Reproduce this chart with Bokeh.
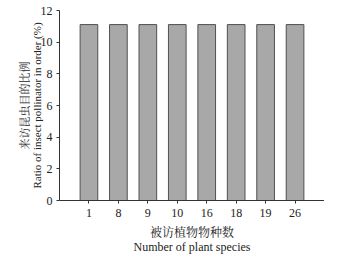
from bokeh.plotting import figure
from bokeh.models import FixedTicker, Range1d
from bokeh.embed import file_html
from bokeh.resources import INLINE

categories = ["1", "8", "9", "10", "16", "18", "19", "26"]
ratios = [11.11, 11.11, 11.11, 11.11, 11.11, 11.11, 11.11, 11.11]
y_ticks = [0, 2, 4, 6, 8, 10, 12]

x_pos = list(range(1, len(categories) + 1))

FONT = "'Liberation Serif', 'Noto Serif CJK SC', 'Noto Sans CJK SC', serif"

p = figure(width=321, height=243, output_backend="svg", toolbar_location=None,
           x_range=Range1d(0, len(categories) + 1), y_range=Range1d(0, 12),
           min_border_left=59, min_border_right=0, min_border_top=10, min_border_bottom=0)
p.frame_width = 265
p.frame_height = 190

p.vbar(x=x_pos, top=ratios, width=0.6, fill_color="#a8a8a8",
       line_color="#505050", line_width=1)

p.xgrid.visible = False
p.ygrid.visible = False
p.outline_line_color = None

p.xaxis.ticker = FixedTicker(ticks=x_pos)
p.xaxis.major_label_overrides = {x: c for x, c in zip(x_pos, categories)}
p.yaxis.ticker = FixedTicker(ticks=y_ticks)

for ax in (p.xaxis[0], p.yaxis[0]):
    ax.axis_line_color = "#333333"
    ax.major_tick_line_color = "#333333"
    ax.major_tick_out = 3
    ax.major_tick_in = 0
    ax.minor_tick_line_color = None
    ax.major_label_text_font = FONT
    ax.major_label_text_font_size = "12px"
    ax.major_label_text_color = "#222222"
    ax.axis_label_text_font = FONT
    ax.axis_label_text_font_style = "normal"
    ax.axis_label_text_color = "#222222"
    ax.axis_label_text_line_height = 1.0

p.xaxis.axis_label_text_font_size = "12px"
p.yaxis.axis_label_text_font_size = "11px"
p.xaxis.axis_label = "被访植物物种数\nNumber of plant species"
p.yaxis.axis_label = "来访昆虫目的比例\nRatio of insect pollinator in order (%)"
p.xaxis.axis_label_standoff = 6
p.yaxis.axis_label_standoff = -5
p.xaxis.major_label_standoff = 5
p.yaxis.major_label_standoff = 4

open("out.html", "w").write(file_html(p, INLINE))
